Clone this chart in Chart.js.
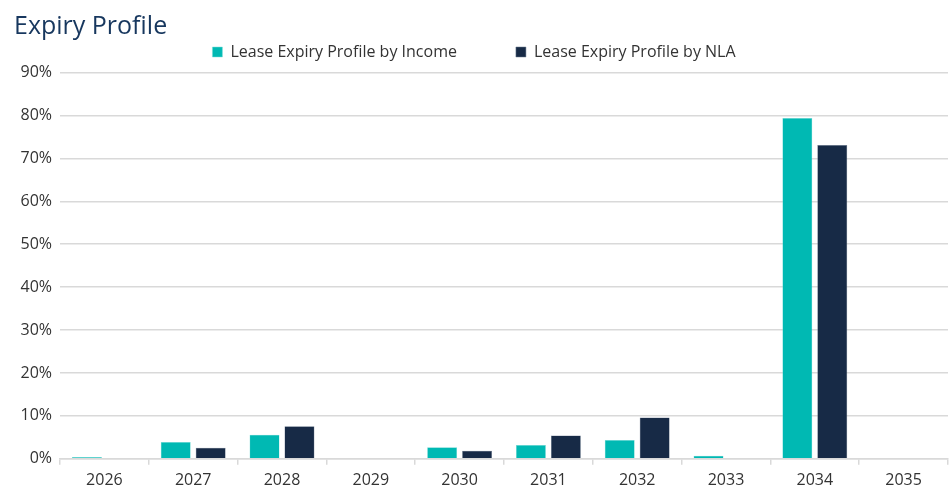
<!DOCTYPE html>
<html>
<head>
<meta charset="utf-8">
<script src="https://cdn.jsdelivr.net/npm/chart.js@4/dist/chart.umd.min.js"></script>
<style>
html,body{margin:0;padding:0;background:#fff;}
#wrap{width:949px;height:499px;position:relative;}
#title{position:absolute;left:14px;top:8px;font-family:'Open Sans',sans-serif;font-size:25px;line-height:32px;color:#17375E;white-space:nowrap;}
</style>
</head>
<body>
<div id="wrap">
<canvas id="c" width="949" height="499"></canvas>
<div id="title"></div>
</div>
<script>
const categories = ["2026","2027","2028","2029","2030","2031","2032","2033","2034","2035"];
const incomeValues = [0.4, 3.9, 5.6, 0, 2.7, 3.2, 4.4, 0.7, 79.4, 0];
const nlaValues = [0, 2.6, 7.6, 0, 1.9, 5.4, 9.6, 0, 73.1, 0];
const seriesNames = ["Lease Expiry Profile by Income", "Lease Expiry Profile by NLA"];
const titleText = "Expiry Profile";

document.getElementById('title').textContent = titleText;

const FONT = "'Open Sans', sans-serif";
const legendMargin = {
  id: 'legendMargin',
  beforeLayout(chart) {
    const lg = chart.legend;
    if (lg && !lg._patched) {
      const fit = lg.fit;
      lg.fit = function () { fit.call(this); this.height += 2.5; };
      lg._patched = true;
    }
  }
};

new Chart(document.getElementById('c'), {
  type: 'bar',
  data: {
    labels: categories,
    datasets: [
      { label: seriesNames[0], data: incomeValues, backgroundColor: '#00B9B3', borderColor: '#7fdcd8', borderWidth: 0.5, categoryPercentage: 0.787, barPercentage: 0.857 },
      { label: seriesNames[1], data: nlaValues, backgroundColor: '#172A46', borderColor: '#6b7a8f', borderWidth: 0.5, categoryPercentage: 0.787, barPercentage: 0.857 }
    ]
  },
  plugins: [legendMargin],
  options: {
    responsive: false,
    animation: false,
    layout: { padding: { left: 0, right: 1, top: -15, bottom: 3 } },
    plugins: {
      title: { display: false },
      legend: {
        display: true, position: 'top',
        labels: { boxWidth: 10, boxHeight: 10, color: '#333', font: { family: FONT, size: 16 }, padding: 59 }
      },
      tooltip: { enabled: false }
    },
    scales: {
      y: {
        min: 0, max: 90,
        afterFit(scale) { scale.width = 60; },
        ticks: { stepSize: 10, callback: v => v + '%', color: '#333', font: { family: FONT, size: 16 }, padding: 8 },
        grid: { color: '#d9d9d9', lineWidth: 1.5, drawTicks: false },
        border: { display: false }
      },
      x: {
        offset: true,
        ticks: { color: '#333', font: { family: FONT, size: 16 }, padding: 6 },
        grid: { offset: true, drawOnChartArea: false, drawTicks: true, tickLength: 6, color: '#d9d9d9', lineWidth: 1.5 },
        border: { display: true, color: '#d9d9d9', width: 1.5 }
      }
    }
  }
});
</script>
</body>
</html>
